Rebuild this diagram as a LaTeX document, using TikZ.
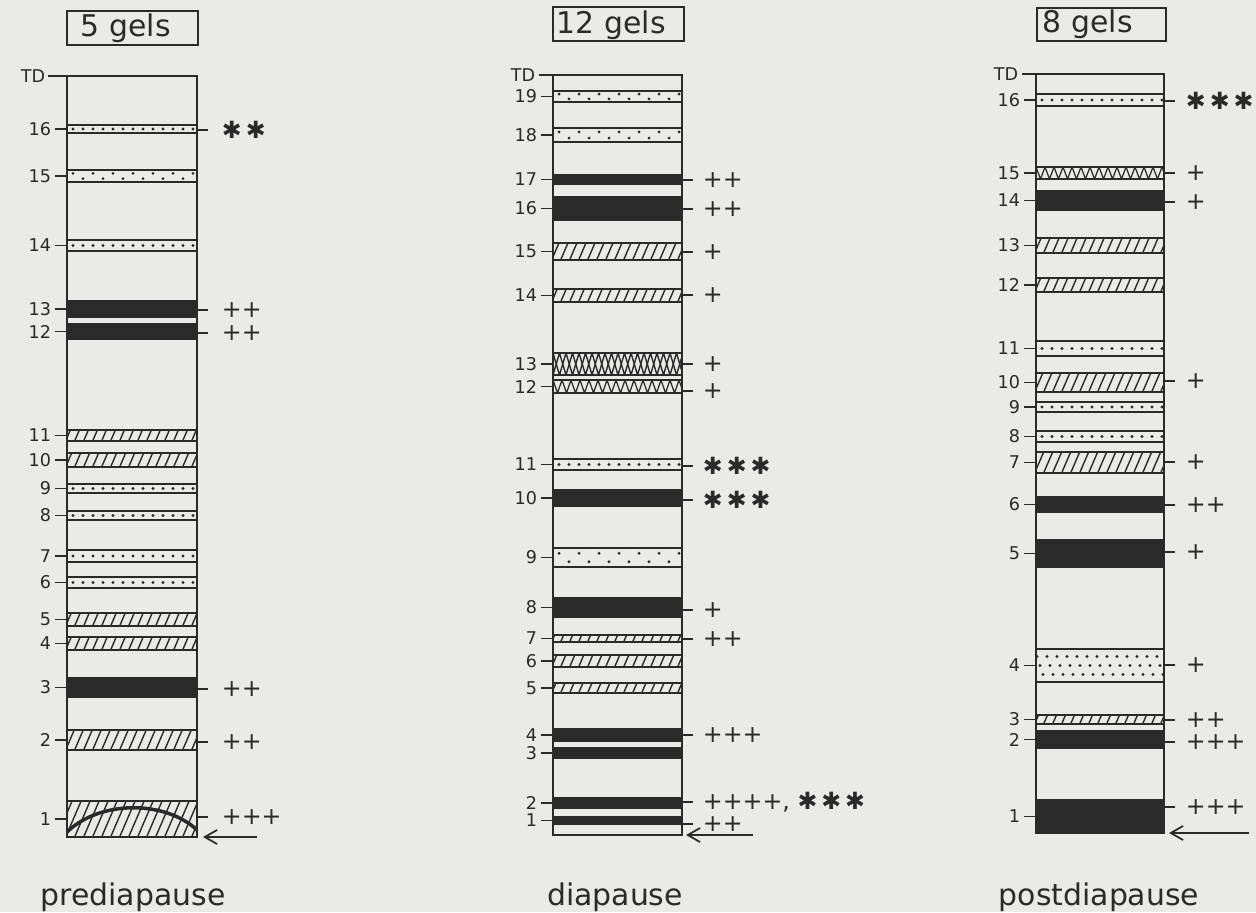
\documentclass[tikz,border=0pt]{standalone}
\usepackage{fontspec}
\setmainfont{DejaVu Sans}
\usetikzlibrary{arrows.meta}
\definecolor{ink}{RGB}{42,42,42}
\definecolor{paper}{RGB}{234,234,232}

\begin{document}
\begin{tikzpicture}[x=0.02cm, y=-0.02cm, line width=1.1pt, color=ink,
		num/.style={anchor=east, inner sep=0pt, font=\fontsize{10}{12}\selectfont},
		sig/.style={anchor=west, inner sep=0pt, font=\fontsize{13.5}{15}\selectfont},
		title/.style={anchor=base west, inner sep=0pt, font=\fontsize{17}{20}\selectfont},
		stage/.style={anchor=base, inner sep=0pt, font=\fontsize{17}{20}\selectfont},
		run/.style={-{Straight Barb[length=7pt,width=8pt]}, line width=1pt},
		band s/.style={fill=ink},
		band h/.style={path picture={
			\foreach \i in {0,...,18}
				\draw[line width=0.8pt] ([shift={(\i*9-28,20)}]path picture bounding box.south west) -- ++(28,-65);}},
		band d/.style={path picture={
			\foreach \i in {0,...,12}
				\fill ([shift={(\i*10+6,0)}]path picture bounding box.west) circle[radius=0.9pt];}},
		band e/.style={path picture={
			\foreach \i in {0,...,12}
				\fill ([shift={(\i*10+6,{(\b-\t)*0.22*(2*mod(\i,2)-1)})}]path picture bounding box.west) circle[radius=0.9pt];}},
		band f/.style={path picture={
			\foreach \j in {-1,0,1}
				\foreach \i in {0,...,12}
					\fill ([shift={(\i*10+4+\j*3,\j*9)}]path picture bounding box.west) circle[radius=0.9pt];}},
		band z/.style={path picture={
			\draw[line width=0.7pt] (path picture bounding box.north west)
				\foreach \i in {1,...,15} { -- ++(4.5,{\b-\t}) -- ++(4.5,{\t-\b}) };}},
		band x/.style={path picture={
			\draw[line width=0.8pt] (path picture bounding box.north west)
				\foreach \i in {1,...,10} { -- ++(6.5,{\b-\t}) -- ++(6.5,{\t-\b}) };
			\draw[line width=0.8pt] (path picture bounding box.south west)
				\foreach \i in {1,...,10} { -- ++(6.5,{\t-\b}) -- ++(6.5,{\b-\t}) };}}]
	\useasboundingbox (0,0) rectangle (1256,912);
	\fill[paper] (0,0) rectangle (1256,912);

	% prediapause
	\def\xl{67}\def\xr{197}
	\draw (67,11) rectangle (198,45);
	\node[title] (t-pre) at (80,37) {5 gels};
	\draw (\xl,76) rectangle (\xr,837);
	\draw (\xl-19,76) -- (\xl,76);
	\node[num] (p-td) at (\xl-21,76) {TD};
	\foreach \n/\t/\b/\k in {16/125/133/d, 15/170/182/e, 14/240/251/d, 13/301/317/s,
			12/324/339/s, 11/430/441/h, 10/453/467/h, 9/484/493/d, 8/511/520/d, 7/550/562/d,
			6/577/588/d, 5/613/626/h, 4/637/650/h, 3/678/697/s, 2/730/750/h, 1/801/837/h} {
		\draw[band \k] (\xl,\t) rectangle (\xr,\b);
		\draw (\xl-12,{(\t+\b)/2}) -- (\xl,{(\t+\b)/2});
		\node[num] (p\n) at (\xl-15,{(\t+\b)/2}) {\n};
	}
	\draw[line width=2pt] (\xl,832) .. controls (100,800) and (165,800) .. (\xr,830);
	\foreach \n/\y/\m in {16/130/{✱\,✱}, 13/310/++, 12/333/++, 3/689/++, 2/742/++, 1/817/+++} {
		\draw (\xr,\y) -- ++(11,0);
		\node[sig] (pm\n) at (\xr+24,\y) {\m};
	}
	\coordinate (pa) at (257,837);
	\coordinate (pb) at (203,837);
	\draw[run] (pa) -- (pb);
	\node[stage] (s-pre) at (133,905) {prediapause};

	% diapause
	\def\xl{553}\def\xr{682}
	\draw (553,7) rectangle (684,41);
	\node[title] (t-dia) at (556,34) {12 gels};
	\draw (\xl,75) rectangle (\xr,835);
	\draw (\xl-14,75) -- (\xl,75);
	\node[num] (d-td) at (\xl-17,75) {TD};
	\foreach \n/\t/\b/\k in {19/91/102/e, 18/128/142/e, 17/175/184/s, 16/197/220/s,
			15/243/260/h, 14/289/302/h, 13/353/375/x, 12/380/393/z, 11/459/470/d, 10/490/506/s,
			9/548/567/e, 8/598/617/s, 7/635/642/h, 6/655/667/h, 5/683/693/h, 4/729/741/s,
			3/748/758/s, 2/798/808/s, 1/817/824/s} {
		\draw[band \k] (\xl,\t) rectangle (\xr,\b);
		\draw (\xl-12,{(\t+\b)/2}) -- (\xl,{(\t+\b)/2});
		\node[num] (d\n) at (\xl-15,{(\t+\b)/2}) {\n};
	}
	\foreach \n/\y/\m in {17/180/++, 16/209/++, 15/252/+, 14/295/+, 13/364/+, 12/391/+,
			11/466/{✱\,✱\,✱}, 10/500/{✱\,✱\,✱}, 8/610/+, 7/639/++, 4/735/+++,
			2/802/{++++, ✱\,✱\,✱}, 1/824/++} {
		\draw (\xr,\y) -- ++(11,0);
		\node[sig] (dm\n) at (\xr+20,\y) {\m};
	}
	\coordinate (da) at (753,835);
	\coordinate (db) at (686,835);
	\draw[run] (da) -- (db);
	\node[stage] (s-dia) at (615,905) {diapause};

	% postdiapause
	\def\xl{1036}\def\xr{1164}
	\draw (1037,8) rectangle (1166,41);
	\node[title] (t-post) at (1042,33) {8 gels};
	\draw (\xl,74) rectangle (\xr,833);
	\draw (\xl-14,74) -- (\xl,74);
	\node[num] (q-td) at (\xl-17,74) {TD};
	\foreach \n/\t/\b/\k in {16/94/106/d, 15/167/179/z, 14/191/210/s, 13/238/253/h,
			12/278/292/h, 11/341/356/d, 10/373/392/h, 9/402/412/d, 8/431/442/d, 7/452/473/h,
			6/497/512/s, 5/540/567/s, 4/649/682/f, 3/715/724/h, 2/731/748/s, 1/800/833/s} {
		\draw[band \k] (\xl,\t) rectangle (\xr,\b);
		\draw (\xl-12,{(\t+\b)/2}) -- (\xl,{(\t+\b)/2});
		\node[num] (q\n) at (\xl-15,{(\t+\b)/2}) {\n};
	}
	\foreach \n/\y/\m in {16/101/{✱\,✱\,✱}, 15/173/+, 14/202/+, 10/381/+, 7/462/+, 6/505/++,
			5/552/+, 4/665/+, 3/720/++, 2/742/+++, 1/807/+++} {
		\draw (\xr,\y) -- ++(11,0);
		\node[sig] (qm\n) at (\xr+21,\y) {\m};
	}
	\coordinate (qa) at (1249,833);
	\coordinate (qb) at (1169,833);
	\draw[run] (qa) -- (qb);
	\node[stage] (s-post) at (1099,905) {postdiapause};
\end{tikzpicture}
\end{document}
